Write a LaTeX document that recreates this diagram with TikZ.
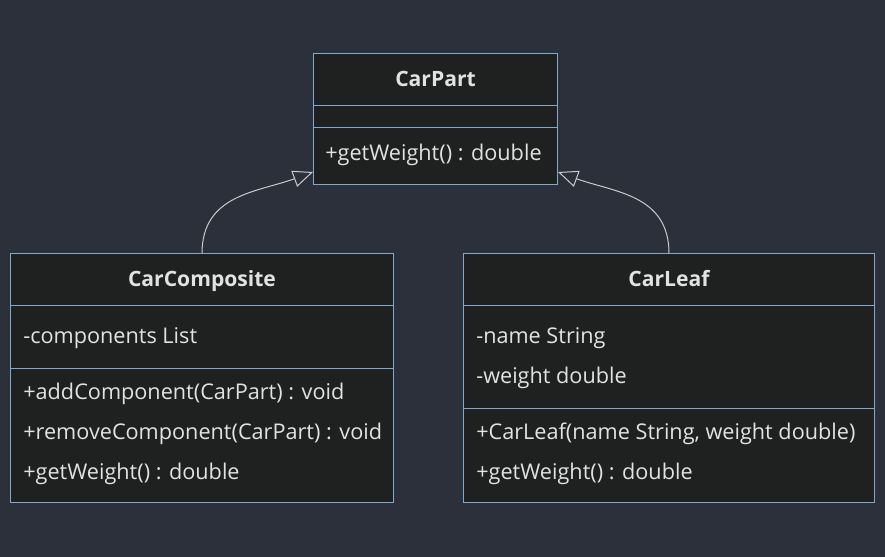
\documentclass[tikz,border=0pt]{standalone}
\usepackage{fontspec}
\setmainfont{Open Sans}
\usetikzlibrary{arrows.meta}
\definecolor{pagebg}{HTML}{2B303B}
\definecolor{boxfill}{HTML}{1F2020}
\definecolor{boxline}{HTML}{7FA9D3}
\definecolor{txtcol}{HTML}{E2E2E2}
\definecolor{linkcol}{HTML}{CCCCCC}
\tikzset{
  classbox/.style={draw=boxline, line width=0.7pt, fill=boxfill, inner sep=0pt},
  member/.style={anchor=base west, inner sep=0pt},
  classname/.style={anchor=base, inner sep=0pt, font=\fontsize{15}{18}\selectfont\bfseries},
}

\begin{document}
\begin{tikzpicture}[x=0.025cm, y=-0.025cm, every node/.style={font=\fontsize{15.4}{18}\selectfont, text=txtcol}, >={Triangle[open, length=5mm, width=4.2mm]}]
	\fill[pagebg] (0,0) rectangle (885,557);
	\useasboundingbox (0,0) rectangle (885,557);
	% class boxes
	\node[classbox, minimum width=6.075cm, minimum height=3.25cm] (cp) at (435.5,119) {};
	\node[classbox, minimum width=9.55cm, minimum height=6.2cm] (cc) at (202,378) {};
	\node[classbox, minimum width=10.25cm, minimum height=6.2cm] (cl) at (669,378) {};
	% compartments
	\draw[boxline, line width=0.7pt] (cp.west |- 0,105) -- (cp.east |- 0,105);
	\draw[boxline, line width=0.7pt] (cp.west |- 0,127) -- (cp.east |- 0,127);
	\draw[boxline, line width=0.7pt] (cc.west |- 0,305) -- (cc.east |- 0,305);
	\draw[boxline, line width=0.7pt] (cc.west |- 0,368) -- (cc.east |- 0,368);
	\draw[boxline, line width=0.7pt] (cl.west |- 0,305) -- (cl.east |- 0,305);
	\draw[boxline, line width=0.7pt] (cl.west |- 0,408) -- (cl.east |- 0,408);
	% CarPart
	\node[classname] (cpname) at (435.5,86.5) {CarPart};
	\node[member] (cpm1) at (325,161) {+getWeight() : double};
	% CarComposite
	\node[classname] (ccname) at (202,286) {CarComposite};
	\node[member] (cca1) at (23,343) {-components List};
	\node[member] (ccm1) at (23,399) {+addComponent(CarPart) : void};
	\node[member] (ccm2) at (23,439) {+removeComponent(CarPart) : void};
	\node[member] (ccm3) at (23,479) {+getWeight() : double};
	% CarLeaf
	\node[classname] (clname) at (669,286) {CarLeaf};
	\node[member] (cla1) at (476,343) {-name String};
	\node[member] (cla2) at (476,383) {-weight double};
	\node[member] (clm1) at (476,439) {+CarLeaf(name String, weight double)};
	\node[member] (clm2) at (476,479) {+getWeight() : double};
	% inheritance
	\coordinate (tipL) at (313,172);
	\coordinate (tipR) at (558,172);
	\draw[->, linkcol, line width=0.7pt] (cc.north) to[out=90, in=200, looseness=1.1] (tipL);
	\draw[->, linkcol, line width=0.7pt] (cl.north) to[out=90, in=-20, looseness=1.1] (tipR);
\end{tikzpicture}
\end{document}
